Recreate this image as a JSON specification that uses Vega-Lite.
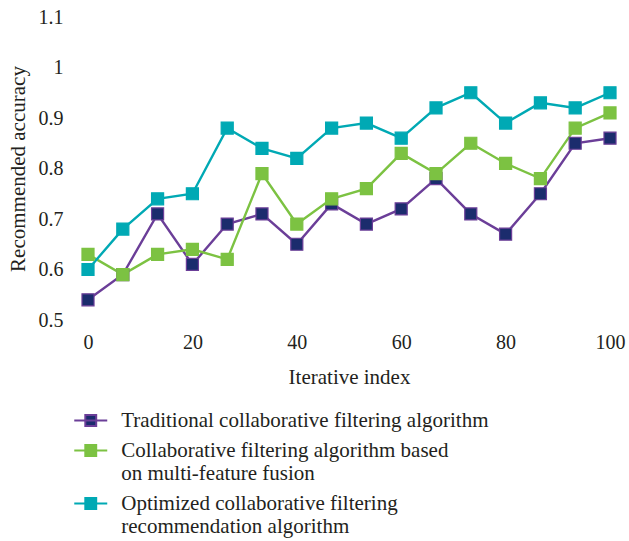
{
  "$schema": "https://vega.github.io/schema/vega-lite/v6.json",
  "autosize": "none",
  "width": 522,
  "height": 303,
  "padding": {"left": 88, "top": 17, "right": 19, "bottom": 221},
  "background": "white",
  "config": {
    "view": {"stroke": null},
    "font": "Liberation Serif",
    "axis": {"labelFont": "Liberation Serif", "titleFont": "Liberation Serif", "labelColor": "#231f20", "titleColor": "#231f20", "labelFontSize": 20, "titleFontSize": 21, "titleFontWeight": "normal", "domain": false, "ticks": false, "grid": false, "labelFlush": false},
    "legend": {"labelFont": "Liberation Serif", "labelFontSize": 21, "labelLineHeight": 26, "labelColor": "#231f20", "title": null, "orient": "none", "legendX": -7.75, "legendY": 393, "direction": "vertical", "padding": 0, "symbolType": "M-2,0H2M-0.66,-0.66H0.66V0.66H-0.66Z", "symbolSize": 272, "symbolStrokeWidth": 2, "labelOffset": 20, "labelLimit": 500, "rowPadding": 8}
  },
  "data": {"values": [
    {"x": 0, "y": 0.54, "series": "Traditional collaborative filtering algorithm"},
    {"x": 6.67, "y": 0.59, "series": "Traditional collaborative filtering algorithm"},
    {"x": 13.33, "y": 0.71, "series": "Traditional collaborative filtering algorithm"},
    {"x": 20, "y": 0.61, "series": "Traditional collaborative filtering algorithm"},
    {"x": 26.67, "y": 0.69, "series": "Traditional collaborative filtering algorithm"},
    {"x": 33.33, "y": 0.71, "series": "Traditional collaborative filtering algorithm"},
    {"x": 40, "y": 0.65, "series": "Traditional collaborative filtering algorithm"},
    {"x": 46.67, "y": 0.73, "series": "Traditional collaborative filtering algorithm"},
    {"x": 53.33, "y": 0.69, "series": "Traditional collaborative filtering algorithm"},
    {"x": 60, "y": 0.72, "series": "Traditional collaborative filtering algorithm"},
    {"x": 66.67, "y": 0.78, "series": "Traditional collaborative filtering algorithm"},
    {"x": 73.33, "y": 0.71, "series": "Traditional collaborative filtering algorithm"},
    {"x": 80, "y": 0.67, "series": "Traditional collaborative filtering algorithm"},
    {"x": 86.67, "y": 0.75, "series": "Traditional collaborative filtering algorithm"},
    {"x": 93.33, "y": 0.85, "series": "Traditional collaborative filtering algorithm"},
    {"x": 100, "y": 0.86, "series": "Traditional collaborative filtering algorithm"},
    {"x": 0, "y": 0.63, "series": "Collaborative filtering algorithm based on multi-feature fusion"},
    {"x": 6.67, "y": 0.59, "series": "Collaborative filtering algorithm based on multi-feature fusion"},
    {"x": 13.33, "y": 0.63, "series": "Collaborative filtering algorithm based on multi-feature fusion"},
    {"x": 20, "y": 0.64, "series": "Collaborative filtering algorithm based on multi-feature fusion"},
    {"x": 26.67, "y": 0.62, "series": "Collaborative filtering algorithm based on multi-feature fusion"},
    {"x": 33.33, "y": 0.79, "series": "Collaborative filtering algorithm based on multi-feature fusion"},
    {"x": 40, "y": 0.69, "series": "Collaborative filtering algorithm based on multi-feature fusion"},
    {"x": 46.67, "y": 0.74, "series": "Collaborative filtering algorithm based on multi-feature fusion"},
    {"x": 53.33, "y": 0.76, "series": "Collaborative filtering algorithm based on multi-feature fusion"},
    {"x": 60, "y": 0.83, "series": "Collaborative filtering algorithm based on multi-feature fusion"},
    {"x": 66.67, "y": 0.79, "series": "Collaborative filtering algorithm based on multi-feature fusion"},
    {"x": 73.33, "y": 0.85, "series": "Collaborative filtering algorithm based on multi-feature fusion"},
    {"x": 80, "y": 0.81, "series": "Collaborative filtering algorithm based on multi-feature fusion"},
    {"x": 86.67, "y": 0.78, "series": "Collaborative filtering algorithm based on multi-feature fusion"},
    {"x": 93.33, "y": 0.88, "series": "Collaborative filtering algorithm based on multi-feature fusion"},
    {"x": 100, "y": 0.91, "series": "Collaborative filtering algorithm based on multi-feature fusion"},
    {"x": 0, "y": 0.60, "series": "Optimized collaborative filtering recommendation algorithm"},
    {"x": 6.67, "y": 0.68, "series": "Optimized collaborative filtering recommendation algorithm"},
    {"x": 13.33, "y": 0.74, "series": "Optimized collaborative filtering recommendation algorithm"},
    {"x": 20, "y": 0.75, "series": "Optimized collaborative filtering recommendation algorithm"},
    {"x": 26.67, "y": 0.88, "series": "Optimized collaborative filtering recommendation algorithm"},
    {"x": 33.33, "y": 0.84, "series": "Optimized collaborative filtering recommendation algorithm"},
    {"x": 40, "y": 0.82, "series": "Optimized collaborative filtering recommendation algorithm"},
    {"x": 46.67, "y": 0.88, "series": "Optimized collaborative filtering recommendation algorithm"},
    {"x": 53.33, "y": 0.89, "series": "Optimized collaborative filtering recommendation algorithm"},
    {"x": 60, "y": 0.86, "series": "Optimized collaborative filtering recommendation algorithm"},
    {"x": 66.67, "y": 0.92, "series": "Optimized collaborative filtering recommendation algorithm"},
    {"x": 73.33, "y": 0.95, "series": "Optimized collaborative filtering recommendation algorithm"},
    {"x": 80, "y": 0.89, "series": "Optimized collaborative filtering recommendation algorithm"},
    {"x": 86.67, "y": 0.93, "series": "Optimized collaborative filtering recommendation algorithm"},
    {"x": 93.33, "y": 0.92, "series": "Optimized collaborative filtering recommendation algorithm"},
    {"x": 100, "y": 0.95, "series": "Optimized collaborative filtering recommendation algorithm"}
  ]},
  "encoding": {
    "x": {"field": "x", "type": "quantitative", "scale": {"domain": [0, 100], "nice": false}, "axis": {"values": [0, 20, 40, 60, 80, 100], "title": "Iterative index", "labelPadding": 12, "titlePadding": 14}},
    "y": {"field": "y", "type": "quantitative", "scale": {"domain": [0.5, 1.1], "nice": false, "zero": false}, "axis": {"values": [0.5, 0.6, 0.7, 0.8, 0.9, 1, 1.1], "format": "~g", "title": "Recommended accuracy", "labelPadding": 25, "titlePadding": 10}},
    "stroke": {"field": "series", "type": "nominal", "scale": {"domain": ["Traditional collaborative filtering algorithm", "Collaborative filtering algorithm based on multi-feature fusion", "Optimized collaborative filtering recommendation algorithm"], "range": ["#6b3e98", "#7cc242", "#00a9b4"]},
      "legend": {"labelExpr": "datum.label == 'Collaborative filtering algorithm based on multi-feature fusion' ? ['Collaborative filtering algorithm based', 'on multi-feature fusion'] : datum.label == 'Optimized collaborative filtering recommendation algorithm' ? ['Optimized collaborative filtering', 'recommendation algorithm'] : datum.label"}}
  },
  "layer": [
    {
      "mark": {"type": "line", "strokeWidth": 2.4}
    },
    {
      "mark": {"type": "point", "shape": "square", "filled": true, "size": 145, "strokeWidth": 1.2, "opacity": 1},
      "encoding": {
        "fill": {"field": "series", "type": "nominal", "scale": {"domain": ["Traditional collaborative filtering algorithm", "Collaborative filtering algorithm based on multi-feature fusion", "Optimized collaborative filtering recommendation algorithm"], "range": ["#1b2c6d", "#7cc242", "#00a9b4"]},
          "legend": {"labelExpr": "datum.label == 'Collaborative filtering algorithm based on multi-feature fusion' ? ['Collaborative filtering algorithm based', 'on multi-feature fusion'] : datum.label == 'Optimized collaborative filtering recommendation algorithm' ? ['Optimized collaborative filtering', 'recommendation algorithm'] : datum.label"}}
      }
    }
  ]
}
